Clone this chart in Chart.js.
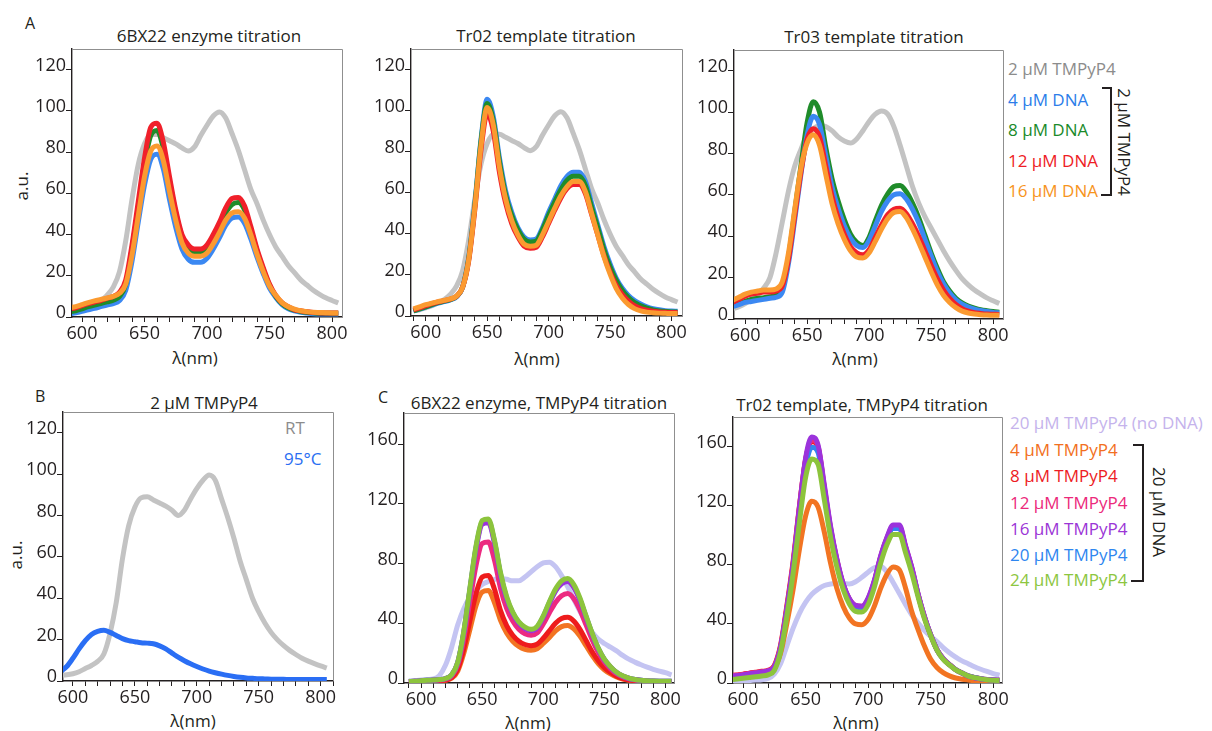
<!DOCTYPE html>
<html>
<head>
<meta charset="utf-8">
<title>TMPyP4 fluorescence spectra</title>
<script src="https://cdn.jsdelivr.net/npm/chart.js@4.4.1/dist/chart.umd.min.js"></script>
<style>
  html, body { margin: 0; padding: 0; background: #fff; }
  body { position: relative; width: 1212px; height: 731px; overflow: hidden;
         font-family: "Open Sans", "Noto Sans", sans-serif; color: #231f20; }
  canvas { position: absolute; }
  .t { position: absolute; white-space: nowrap; line-height: 1; }
  .c { transform: translate(-50%, -50%); }
  .l { transform: translateY(-50%); }
  .up { transform: translate(-50%, -50%) rotate(-90deg); }
  .down { transform: translate(-50%, -50%) rotate(90deg); }
  .ttl { font-size: 17px; }
  .ax { font-size: 17px; }
  .lg { font-size: 17px; }
  .bk { position: absolute; background: #231f20; }
</style>
</head>
<body>

<!-- panel letters -->
<div class="t l" style="left:25px;top:23px;font-size:16px">A</div>
<div class="t l" style="left:35px;top:396px;font-size:16px">B</div>
<div class="t l" style="left:378px;top:397px;font-size:16px">C</div>

<!-- panel titles -->
<div class="t c ttl" style="left:209px;top:35px">6BX22 enzyme titration</div>
<div class="t c ttl" style="left:546px;top:35px">Tr02 template titration</div>
<div class="t c ttl" style="left:874px;top:36px">Tr03 template titration</div>
<div class="t c ttl" style="left:204px;top:402px">2 µM TMPyP4</div>
<div class="t c ttl" style="left:539px;top:402px">6BX22 enzyme, TMPyP4 titration</div>
<div class="t c ttl" style="left:862px;top:404px">Tr02 template, TMPyP4 titration</div>

<!-- axis titles -->
<div class="t up ax" style="left:21px;top:186px">a.u.</div>
<div class="t up ax" style="left:15px;top:555px">a.u.</div>
<div class="t c ax" style="left:195px;top:357px">λ(nm)</div>
<div class="t c ax" style="left:537px;top:358px">λ(nm)</div>
<div class="t c ax" style="left:855px;top:358px">λ(nm)</div>
<div class="t c ax" style="left:193px;top:720px">λ(nm)</div>
<div class="t c ax" style="left:528px;top:722px">λ(nm)</div>
<div class="t c ax" style="left:856px;top:722px">λ(nm)</div>

<!-- legend: DNA titration (panel A) -->
<div class="t l lg" style="left:1008px;top:68px;color:#8c8c8c">2 µM TMPyP4</div>
<div class="t l lg" style="left:1008px;top:99px;color:#2b7de9">4 µM DNA</div>
<div class="t l lg" style="left:1008px;top:129px;color:#1a8a2a">8 µM DNA</div>
<div class="t l lg" style="left:1008px;top:160px;color:#ee1c25">12 µM DNA</div>
<div class="t l lg" style="left:1008px;top:190px;color:#f7941d">16 µM DNA</div>
<div class="bk" style="left:1110px;top:87px;width:2px;height:109px"></div>
<div class="bk" style="left:1102px;top:87px;width:10px;height:2px"></div>
<div class="bk" style="left:1101px;top:194px;width:11px;height:2px"></div>
<div class="t down lg" style="left:1124px;top:142px">2 µM TMPyP4</div>

<!-- legend: temperature (panel B) -->
<div class="t l lg" style="left:285px;top:427px;color:#8c8c8c">RT</div>
<div class="t l lg" style="left:284px;top:458px;color:#2a6ef2">95°C</div>

<!-- legend: TMPyP4 titration (panel C) -->
<div class="t l lg" style="left:1010px;top:422px;color:#c5b3ec">20 µM TMPyP4 (no DNA)</div>
<div class="t l lg" style="left:1010px;top:449px;color:#f26f21">4 µM TMPyP4</div>
<div class="t l lg" style="left:1010px;top:475px;color:#ed1c24">8 µM TMPyP4</div>
<div class="t l lg" style="left:1010px;top:502px;color:#ec297b">12 µM TMPyP4</div>
<div class="t l lg" style="left:1010px;top:528px;color:#9b35d6">16 µM TMPyP4</div>
<div class="t l lg" style="left:1010px;top:554px;color:#2e86f0">20 µM TMPyP4</div>
<div class="t l lg" style="left:1010px;top:579px;color:#8dc63f">24 µM TMPyP4</div>
<div class="bk" style="left:1142px;top:444px;width:2px;height:138px"></div>
<div class="bk" style="left:1133px;top:444px;width:10px;height:2px"></div>
<div class="bk" style="left:1131px;top:580px;width:12px;height:2px"></div>
<div class="t down lg" style="left:1159px;top:512px">20 µM DNA</div>

<canvas id="a1"></canvas>
<canvas id="a2"></canvas>
<canvas id="a3"></canvas>
<canvas id="b1"></canvas>
<canvas id="c1"></canvas>
<canvas id="c2"></canvas>

<script>
// Emission wavelengths (nm) shared by every spectrum
const wavelength = [
  590, 595, 600, 605, 610, 615, 620, 625, 630, 635, 640,
  645, 650, 655, 660, 665, 670, 675, 680, 685, 690, 695,
  700, 705, 710, 715, 720, 725, 730, 735, 740, 745, 750,
  755, 760, 765, 770, 775, 780, 785, 790, 795, 800, 805
];

// 2 µM TMPyP4 alone, room temperature (enzyme and Tr02 titrations)
const free2 = [
  2.5, 3, 4, 5, 6.5, 8, 10.5, 14.5, 22, 37, 57,
  74, 84, 88.5, 88.5, 87, 85.5, 84, 82, 80.5, 82.5, 88,
  93, 97.5, 99.5, 96.5, 89, 81, 71.5, 62, 55, 47, 40,
  34, 29.5, 25, 21.5, 18, 15.5, 13, 11, 9.3, 8, 6.8
];

// 6BX22 enzyme titration, 2 µM TMPyP4
const bx22Dna4 = [
  1.5, 2, 2.7, 3.5, 4.2, 5, 5.8, 6.5, 8, 13, 27,
  46, 64, 76.5, 79, 72, 57, 43.5, 33, 28, 26.5, 26.5,
  28.5, 33, 38.5, 44.5, 48, 48.5, 45.5, 38, 29, 21, 14,
  9.5, 6, 4, 3, 2.3, 1.9, 1.6, 1.5, 1.5, 1.5, 1.5
];
const bx22Dna8 = [
  2.5, 3, 4, 5, 5.8, 6.5, 7.3, 8.2, 10, 16, 33,
  53, 74, 88, 90.5, 82, 66, 50.5, 39, 33, 31, 31,
  33, 38, 44, 50.5, 54.5, 55.5, 52, 42.5, 32, 23, 15.5,
  10, 6.5, 4.5, 3.3, 2.7, 2.3, 2, 1.8, 1.8, 1.8, 1.8
];
const bx22Dna12 = [
  4, 4.5, 5.5, 6.5, 7.3, 8, 9, 10, 12, 18, 35,
  56, 77, 92, 94, 85, 68, 52, 40, 35, 33, 33,
  35, 40, 46, 53, 57.5, 58, 54, 44, 33, 24, 16,
  10.5, 7, 5, 3.5, 3, 2.5, 2.2, 2, 2, 2, 2
];
const bx22Dna16 = [
  4.5, 5, 6, 7, 7.8, 8.5, 9.2, 10, 11.5, 16, 30,
  49, 68, 80.5, 83, 76, 61, 47, 36, 31, 29.5, 29.5,
  31, 35.5, 41, 47, 50.5, 51, 48, 40, 30.5, 22, 15,
  10.5, 7, 5, 3.8, 3, 2.6, 2.3, 2.2, 2.1, 2, 2
];

// Tr02 template titration, 2 µM TMPyP4
const tr02Dna4 = [
  2.5, 3.3, 4.3, 5.3, 6.3, 7, 7.8, 9.3, 14, 28.5, 55,
  86, 105.5, 97, 77, 61, 50.5, 43, 38.5, 37, 37.5, 43,
  50.5, 57, 63.5, 68, 70, 70, 65.5, 55, 44.5, 34, 25.5,
  18.5, 13.5, 10, 7.5, 5.8, 4.5, 3.6, 3, 2.6, 2.4, 2.3
];
const tr02Dna8 = [
  2.5, 3.5, 4.5, 5.5, 6.5, 7.3, 8, 9.5, 14, 28, 54,
  85, 103.5, 95, 75, 59, 49, 42, 37.5, 36, 36.5, 42,
  49, 55.5, 61.5, 66, 68, 68, 63.5, 53, 43, 32.5, 24,
  17.5, 12.5, 9, 6.5, 5, 3.8, 3, 2.5, 2.2, 2, 2
];
const tr02Dna12 = [
  3, 4, 5, 6, 6.8, 7.5, 8.2, 9.6, 14, 27, 52,
  81, 98.5, 90, 70, 55, 45, 38.5, 34, 33, 33.5, 38.5,
  45, 51.5, 57.5, 62, 64, 64, 59.5, 49.5, 39.5, 29.5, 21.5,
  15, 10.5, 7.3, 5, 3.6, 2.8, 2.3, 2, 1.8, 1.7, 1.7
];
const tr02Dna16 = [
  3.5, 4.5, 5.5, 6.3, 7, 7.6, 8.3, 9.7, 14, 27.5, 53,
  83, 101.5, 93, 72.5, 57, 46.5, 39.5, 35, 34, 34.5, 39.5,
  46, 52.5, 58.5, 63, 65.5, 65.5, 60.5, 50, 39.5, 29, 20.5,
  13.5, 8.8, 5.6, 3.6, 2.5, 1.9, 1.6, 1.4, 1.3, 1.2, 1.2
];

// Tr03 template titration, 2 µM TMPyP4
const tr03Free = [
  5, 6, 7.5, 9.5, 12, 15, 20, 32, 47, 62, 74,
  82, 89, 92, 93.5, 93, 91, 88, 86, 85, 87, 91,
  95.5, 99, 100.5, 99, 93, 84, 74, 64, 56, 49.5, 44,
  38.5, 33, 28, 23.5, 19.5, 16.5, 14, 12, 10.2, 8.8, 7.5
];
const tr03Dna4 = [
  6, 7, 8, 8.5, 9, 9.5, 10, 10.5, 13, 27, 48,
  70, 89, 98, 94, 79, 64, 53.5, 45, 39, 35.5, 34.5,
  38, 45, 52, 57, 60, 60.5, 58, 53, 46.5, 38.5, 30.5,
  23, 17, 12.5, 9.3, 7.2, 5.8, 4.8, 4.1, 3.6, 3.2, 3
];
const tr03Dna8 = [
  7, 7.5, 8.5, 9.5, 10, 10.3, 10.8, 11.5, 15, 30, 52,
  74, 95, 105, 100, 83, 68, 57, 48, 41, 37, 35.5,
  39.5, 47.5, 55, 60.5, 64, 64.5, 61.5, 56, 49, 40.5, 32,
  24.5, 18, 13.5, 10, 7.8, 6.3, 5.3, 4.5, 4, 3.6, 3.3
];
const tr03Dna12 = [
  8, 9.5, 11, 12, 12.5, 13, 13, 13.5, 16, 29, 50,
  71, 87, 92, 88, 74, 59.5, 49, 41, 35, 32, 31,
  33.5, 39.5, 45.5, 50.5, 53, 53.5, 51, 46, 40, 33, 26,
  19.5, 14, 10, 7, 5, 3.8, 3.1, 2.7, 2.4, 2.3, 2.2
];
const tr03Dna16 = [
  9, 10.5, 12, 13, 13.5, 14, 14, 14.5, 18, 32, 53,
  73, 85, 89, 84, 70, 56, 46, 38.5, 33, 30, 29.5,
  32, 37.5, 43.5, 48.5, 51.5, 52, 49, 43.5, 37, 30, 23,
  16.5, 11.5, 8, 5.5, 3.8, 2.9, 2.4, 2.1, 1.9, 1.8, 1.8
];

// 2 µM TMPyP4 at room temperature and at 95 °C
const freeRT = [
  2.8, 3, 3.5, 4.5, 6, 7.5, 9.5, 13, 23, 38, 59,
  75, 84, 88.5, 89, 87.5, 86, 84.5, 82.5, 80, 82.5, 88,
  93, 97, 99.5, 97, 88, 79, 69, 58, 49, 40, 33.5,
  28, 23.5, 20, 17.2, 14.8, 12.8, 11, 9.6, 8.4, 7.3, 6.3
];
const free95 = [
  4.5, 7, 11, 15.5, 19.5, 22.5, 24, 24.5, 23.5, 22, 20.5,
  19.5, 19, 18.5, 18.3, 18, 17, 15.5, 13.5, 11.5, 9.8, 8.3,
  7, 5.8, 4.8, 4, 3.3, 2.7, 2.2, 1.8, 1.5, 1.3, 1.1,
  1, 0.9, 0.8, 0.8, 0.7, 0.7, 0.7, 0.7, 0.7, 0.7, 0.7
];

// 6BX22 enzyme (20 µM DNA), TMPyP4 titration
const bx22NoDna = [
  1.5, 1.7, 2, 2.3, 2.7, 5, 12, 24, 39, 50, 57.5,
  62, 66, 68, 69.5, 70, 69.5, 68.5, 68.5, 71, 74.5, 78,
  80.5, 81, 78, 72, 64.5, 56, 48, 40.5, 34, 29.5, 26.5,
  24, 21.5, 18.5, 16, 14, 12.2, 10.6, 9.2, 8, 6.9, 5.5
];
const bx22P4 = [
  0.7, 0.8, 0.9, 1, 1.2, 1.4, 1.8, 3.1, 8, 20, 36,
  52, 61, 62, 54, 42, 33.5, 28, 24.5, 22.5, 22, 23,
  26.5, 30.5, 35, 37.8, 38.5, 36.3, 31.5, 25, 18.5, 13, 8.9,
  6.1, 4, 2.6, 1.8, 1.3, 1, 0.8, 0.7, 0.7, 0.7, 0.7
];
const bx22P8 = [
  0.8, 0.9, 1, 1.2, 1.4, 1.6, 2, 3.6, 9.2, 23, 42,
  60, 71, 72, 63, 48.5, 38.5, 32, 28, 25.8, 25, 26,
  30, 35, 40, 43.2, 44, 41.5, 36, 28.5, 21, 15, 10.2,
  7, 4.6, 3, 2, 1.5, 1.1, 0.9, 0.8, 0.8, 0.8, 0.8
];
const bx22P12 = [
  1, 1.1, 1.3, 1.5, 1.8, 2, 2.6, 4.7, 12, 30, 55,
  79, 93.5, 94.5, 82.5, 63.5, 50, 41.5, 36, 33, 32, 33.5,
  39.5, 47, 54, 58.5, 60, 56.5, 49, 39, 29, 20.5, 14,
  9.5, 6.2, 4.1, 2.8, 2, 1.5, 1.2, 1, 1, 1, 1
];
const bx22P16 = [
  1, 1.2, 1.5, 1.8, 2, 2.3, 3, 5.4, 13.7, 34, 62.5,
  90, 106.5, 107.5, 94, 72, 56.5, 46.5, 40, 36.5, 35, 37,
  44, 53, 61.5, 66.5, 68, 64, 55.5, 44, 32.5, 23, 15.6,
  10.7, 7, 4.7, 3.2, 2.3, 1.8, 1.5, 1.3, 1.2, 1.2, 1.2
];
const bx22P20 = [
  1, 1.2, 1.5, 1.8, 2, 2.3, 3, 5.5, 13.8, 34.5, 63,
  91, 108, 109, 95, 73, 57, 47, 40.5, 37, 35.5, 37.5,
  44.5, 54, 62, 67.5, 69, 65, 56, 44.5, 33, 23.2, 15.8,
  10.8, 7.1, 4.7, 3.2, 2.3, 1.8, 1.5, 1.3, 1.2, 1.2, 1.2
];
const bx22P24 = [
  1, 1.2, 1.5, 1.8, 2, 2.3, 3, 5.5, 14, 35, 64,
  92, 109, 110, 96, 74, 58, 47.5, 41, 37.5, 36, 38,
  45, 54.5, 63, 68.5, 70, 66, 57, 45, 33.5, 23.5, 16,
  11, 7.2, 4.8, 3.3, 2.4, 1.8, 1.5, 1.3, 1.2, 1.2, 1.2
];

// Tr02 template (20 µM DNA), TMPyP4 titration
const tr02NoDna = [
  1, 1.2, 1.5, 1.7, 2, 2.2, 3, 6, 13, 25, 37,
  47, 54.5, 60, 63.5, 66, 67, 67.5, 67.5, 67, 68.5, 71.5,
  75, 78, 79, 75, 68, 60.5, 53, 46, 40.5, 35.5, 31.5,
  28, 24, 20.5, 17.5, 15, 13, 11, 9.3, 7.8, 6.4, 5.2
];
const tr02P4 = [
  4, 4.5, 5, 5.6, 6.2, 6.8, 7.5, 10, 20, 40, 63,
  90, 113, 123, 119, 102, 81, 64, 52, 44, 40, 39.5,
  43, 52, 64, 73.5, 78.5, 76.5, 64, 48, 36, 25, 16,
  10.5, 7, 4.8, 3.4, 2.6, 2.1, 1.7, 1.5, 1.3, 1.2, 1.2
];
const tr02P8 = [
  5, 5.5, 6, 6.7, 7.3, 7.9, 8.6, 11.8, 25.5, 52, 82,
  119, 151, 163.5, 159, 131.5, 104, 83, 66.5, 56.5, 52, 51.5,
  56.5, 68.5, 85, 97.5, 105, 105, 91.5, 77, 59.5, 44.5, 32.5,
  22.5, 16.3, 12.4, 9, 6.8, 4.8, 3.7, 2.9, 2.3, 2, 1.8
];
const tr02P12 = [
  4.8, 5.3, 5.8, 6.5, 7.1, 7.7, 8.4, 11.3, 24.5, 50.5, 80.5,
  118, 151, 164.5, 160, 132.5, 105, 83.5, 67, 57, 52.5, 52,
  57, 69, 85.5, 98, 106, 106, 92, 77.5, 60, 45, 32.5,
  22.7, 16.5, 12.5, 9, 6.8, 4.7, 3.6, 2.9, 2.3, 2, 1.8
];
const tr02P16 = [
  4.5, 5, 5.5, 6.2, 6.8, 7.4, 8.2, 11, 24, 50, 80,
  118, 152, 166.5, 161, 134, 106, 84, 67.5, 57, 52.5, 52,
  57.5, 69.5, 86, 98.5, 107, 107, 92.5, 78, 60, 45, 32.5,
  22.5, 16.5, 12.5, 9, 6.8, 4.6, 3.5, 2.8, 2.3, 2, 1.8
];
const tr02P20 = [
  4, 4.5, 5, 5.6, 6.2, 6.8, 7.6, 10.5, 23.5, 49, 78,
  114, 146, 159.5, 156, 130, 103, 82, 66.5, 56.5, 51.5, 51,
  56, 68, 84.5, 97, 104.5, 104.5, 91, 76.5, 59.5, 44.5, 32.5,
  22.5, 16.3, 12.4, 9, 6.8, 4.8, 3.7, 2.9, 2.3, 2, 1.8
];
const tr02P24 = [
  2.2, 2.7, 3.2, 3.7, 4.2, 4.8, 5.5, 8.5, 21, 45, 74,
  108, 139, 151.5, 148, 124, 98.5, 78.5, 63.5, 53.5, 48.5, 48,
  53, 65, 81, 93.5, 100.5, 100.5, 88, 74, 58, 43.5, 32,
  22.3, 16, 12.2, 8.9, 6.7, 4.7, 3.6, 2.8, 2.2, 1.9, 1.7
];

// Series colours
const GRAY = '#c3c3c3';
const A_BLUE = '#3b88f2', A_GREEN = '#1f8c2a', A_RED = '#f0202a', A_ORANGE = '#fb9a30';
const B_BLUE = '#2a6ef4';
const C_LAV = '#c4c4f2', C_ORANGE = '#f27422', C_RED = '#ee1c1c', C_PINK = '#ec2a80',
      C_PURPLE = '#9b33dc', C_BLUE = '#3484f0', C_GREEN = '#8cc43c';

const FONT = '"Open Sans", "Noto Sans", sans-serif';
const INK = '#231f20';

// Thin grey top/right edges of the plot frame
const frameEdges = {
  id: 'frameEdges',
  afterDraw(chart) {
    const { ctx, chartArea: a } = chart;
    ctx.save();
    ctx.strokeStyle = '#8f8f8f';
    ctx.lineWidth = 1;
    ctx.beginPath();
    ctx.moveTo(a.left, a.top + 0.5);
    ctx.lineTo(a.right + 0.5, a.top + 0.5);
    ctx.lineTo(a.right + 0.5, a.bottom);
    ctx.stroke();
    ctx.restore();
  }
};

// One spectrum panel; box = plot-area edges on the page, first series is drawn on top
function spectrumPanel(id, box, xRange, yMax, yStep, series) {
  const padL = 64, padT = 18, padR = 14, padB = 34;
  const cv = document.getElementById(id);
  const w = box.r - box.l + padL + padR;
  const h = box.b - box.t + padT + padB;
  cv.width = w; cv.height = h;
  cv.style.width = w + 'px'; cv.style.height = h + 'px';
  cv.style.left = (box.l - padL) + 'px';
  cv.style.top = (box.t - padT) + 'px';

  new Chart(cv, {
    type: 'line',
    data: {
      datasets: series.map(s => ({
        data: wavelength.map((x, i) => ({ x: x, y: s.values[i] })),
        borderColor: s.color,
        borderWidth: 5,
        pointRadius: 0,
        cubicInterpolationMode: 'monotone',
        fill: false
      }))
    },
    options: {
      responsive: false,
      animation: false,
      devicePixelRatio: 1,
      events: [],
      layout: { padding: { left: 0, top: padT, right: padR, bottom: 0 } },
      plugins: { legend: { display: false }, tooltip: { enabled: false } },
      scales: {
        x: {
          type: 'linear', min: xRange[0], max: xRange[1],
          afterFit(s) { s.height = padB; },
          border: { color: INK, width: 1.4 },
          grid: { drawOnChartArea: false, tickLength: 5, color: INK, tickWidth: 1 },
          ticks: {
            stepSize: 10, includeBounds: false, autoSkip: false, maxRotation: 0,
            padding: 1, color: INK, font: { family: FONT, size: 18 },
            callback: v => (v % 50 === 0 ? String(v) : '')
          }
        },
        y: {
          type: 'linear', min: 0, max: yMax,
          afterFit(s) { s.width = padL; },
          border: { color: INK, width: 1.4 },
          grid: { drawOnChartArea: false, tickLength: 6, color: INK, tickWidth: 1 },
          ticks: {
            stepSize: yStep, includeBounds: false, padding: 0, labelOffset: -4,
            color: INK, font: { family: FONT, size: 18 }
          }
        }
      }
    },
    plugins: [frameEdges]
  });
}

spectrumPanel('a1', { l: 72, r: 342, t: 49, b: 317 }, [592, 808], 130, 20, [
  { values: bx22Dna16, color: A_ORANGE },
  { values: bx22Dna12, color: A_RED },
  { values: bx22Dna8, color: A_GREEN },
  { values: bx22Dna4, color: A_BLUE },
  { values: free2, color: GRAY }
]);

spectrumPanel('a2', { l: 411, r: 682, t: 49, b: 316 }, [588, 808.6], 130, 20, [
  { values: tr02Dna16, color: A_ORANGE },
  { values: tr02Dna12, color: A_RED },
  { values: tr02Dna8, color: A_GREEN },
  { values: tr02Dna4, color: A_BLUE },
  { values: free2, color: GRAY }
]);

spectrumPanel('a3', { l: 734, r: 1003, t: 50, b: 319 }, [591, 808], 130, 20, [
  { values: tr03Dna16, color: A_ORANGE },
  { values: tr03Dna12, color: A_RED },
  { values: tr03Dna4, color: A_BLUE },
  { values: tr03Dna8, color: A_GREEN },
  { values: tr03Free, color: GRAY }
]);

spectrumPanel('b1', { l: 63, r: 333, t: 412, b: 681 }, [592, 810], 130, 20, [
  { values: free95, color: B_BLUE },
  { values: freeRT, color: GRAY }
]);

spectrumPanel('c1', { l: 404, r: 674, t: 413, b: 683 }, [586, 807], 181, 40, [
  { values: bx22P24, color: C_GREEN },
  { values: bx22P16, color: C_PURPLE },
  { values: bx22P20, color: C_BLUE },
  { values: bx22P12, color: C_PINK },
  { values: bx22P8, color: C_RED },
  { values: bx22P4, color: C_ORANGE },
  { values: bx22NoDna, color: C_LAV }
]);

spectrumPanel('c2', { l: 733, r: 1002, t: 417, b: 683 }, [592, 807], 180, 40, [
  { values: tr02P24, color: C_GREEN },
  { values: tr02P16, color: C_PURPLE },
  { values: tr02P20, color: C_BLUE },
  { values: tr02P12, color: C_PINK },
  { values: tr02P8, color: C_RED },
  { values: tr02P4, color: C_ORANGE },
  { values: tr02NoDna, color: C_LAV }
]);
</script>
</body>
</html>
